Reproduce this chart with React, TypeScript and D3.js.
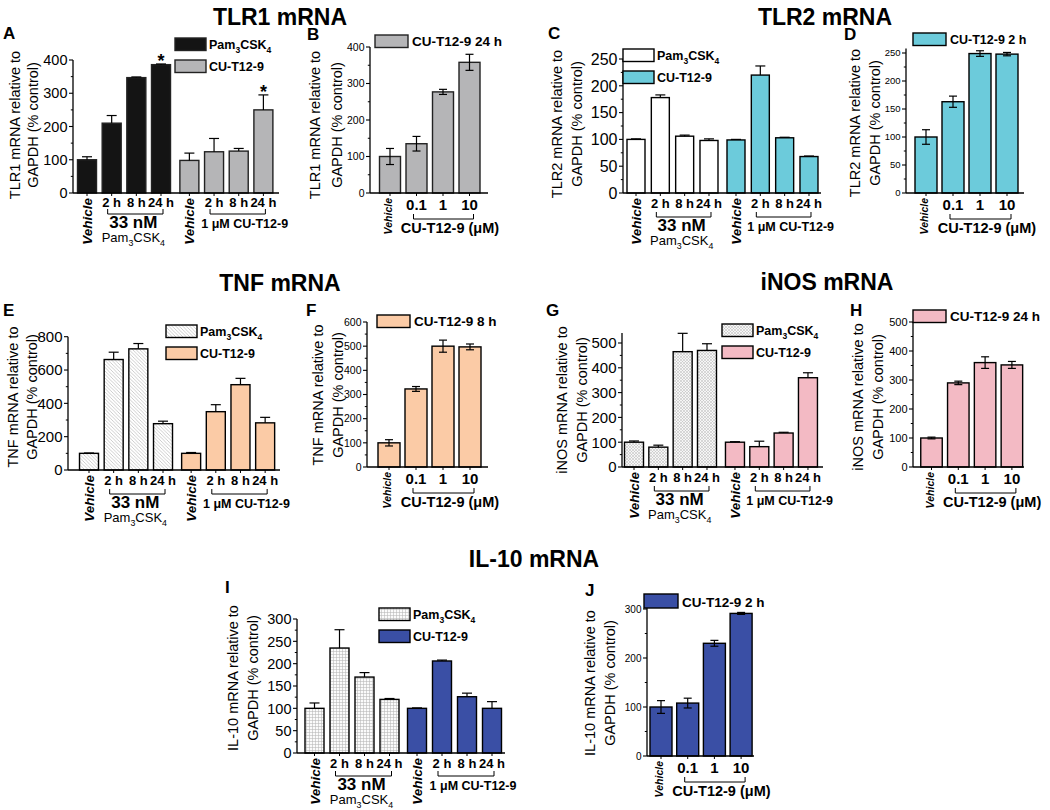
import React from "react";
import * as d3 from "d3";

const FONT = '"Liberation Sans", Arial, Helvetica, sans-serif';

// ---------- categories ----------
const timeCategories = ["Vehicle", "2 h", "8 h", "24 h", "Vehicle", "2 h", "8 h", "24 h"];
const doseCategories = ["Vehicle", "0.1", "1", "10"];
const timeLegend = ["Pam3CSK4", "CU-T12-9"];
const pamGroupLabel = "33 nM";
const cuGroupLabel = "1 \u03bcM CU-T12-9";
const doseAxisLabel = "CU-T12-9 (\u03bcM)";

// ---------- TLR1 ----------
const tlr1TimeValues = [100, 210, 347, 386, 98, 124, 126, 250];
const tlr1TimeErrors = [9, 23, 2, 2, 22, 40, 8, 45];
const tlr1TimeStars = [3, 7];
const tlr1DoseValues = [100, 135, 277, 358];
const tlr1DoseErrors = [22, 20, 7, 22];
const tlr1DoseLegend = "CU-T12-9 24 h";

// ---------- TLR2 ----------
const tlr2TimeValues = [100, 178, 106, 98, 99, 220, 103, 68];
const tlr2TimeErrors = [1, 5, 2, 3, 1, 17, 1, 1];
const tlr2DoseValues = [100, 163, 249, 248];
const tlr2DoseErrors = [13, 10, 5, 3];
const tlr2DoseLegend = "CU-T12-9 2 h";

// ---------- TNF ----------
const tnfTimeValues = [100, 663, 727, 278, 100, 350, 512, 283];
const tnfTimeErrors = [2, 44, 32, 15, 5, 42, 38, 33];
const tnfDoseValues = [100, 323, 500, 497];
const tnfDoseErrors = [13, 10, 25, 12];
const tnfDoseLegend = "CU-T12-9 8 h";

// ---------- iNOS ----------
const inosTimeValues = [100, 80, 465, 470, 100, 82, 137, 360];
const inosTimeErrors = [5, 8, 74, 27, 2, 22, 3, 20];
const inosDoseValues = [100, 290, 360, 352];
const inosDoseErrors = [3, 6, 20, 12];
const inosDoseLegend = "CU-T12-9 24 h";

// ---------- IL-10 ----------
const il10TimeValues = [100, 235, 170, 120, 100, 206, 126, 100];
const il10TimeErrors = [12, 41, 10, 2, 1, 2, 8, 15];
const il10DoseValues = [100, 108, 230, 291];
const il10DoseErrors = [13, 10, 6, 2];
const il10DoseLegend = "CU-T12-9 2 h";

function Pam({ size }: { size: number }) {
  const s = size * 0.68;
  const d = size * 0.28;
  return (
    <>
      <tspan>Pam</tspan>
      <tspan fontSize={s} dy={d}>3</tspan>
      <tspan dy={-d}>CSK</tspan>
      <tspan fontSize={s} dy={d}>4</tspan>
    </>
  );
}

function Label({ text, size }: { text: string; size: number }) {
  if (text === "Pam3CSK4") return <Pam size={size} />;
  return <>{text}</>;
}

function YAxis({ y, axisX, yMax, tickMax, tickStep, tickFont }: any) {
  const ticks = d3.range(0, tickMax + tickStep / 2, tickStep);
  const minors = d3.range(tickStep / 2, yMax + 1e-6, tickStep);
  return (
    <g>
      <line x1={axisX} x2={axisX} y1={y(0)} y2={y(yMax)} stroke="#000" strokeWidth={1.3} />
      {ticks.map((t: number) => (
        <g key={"t" + t}>
          <line x1={axisX - 4} x2={axisX} y1={y(t)} y2={y(t)} stroke="#000" strokeWidth={1.1} />
          <text x={axisX - 5.5} y={y(t)} dy="0.36em" textAnchor="end" fontSize={tickFont}>
            {t}
          </text>
        </g>
      ))}
      {minors.map((t: number) => (
        <line key={"m" + t} x1={axisX - 2.2} x2={axisX} y1={y(t)} y2={y(t)} stroke="#000" strokeWidth={1} />
      ))}
    </g>
  );
}

function YTitle({ line1, x1, x2, cy }: any) {
  return (
    <g fontSize={14.5}>
      <text transform={`translate(${x1},${cy}) rotate(-90)`} textAnchor="middle">
        {line1}
      </text>
      <text transform={`translate(${x2},${cy}) rotate(-90)`} textAnchor="middle">
        GAPDH (% control)
      </text>
    </g>
  );
}

function bracket(x1: number, x2: number, yb: number) {
  return `M${x1},${yb - 5}V${yb}H${x2}V${yb - 5}`;
}

function TimePanel(p: any) {
  const xs = d3.scaleLinear().domain([0, 1]).range([p.firstCenter, p.firstCenter + p.step]);
  const c = (i: number) => xs(i + (i >= 4 ? p.gapFrac : 0));
  const y = d3.scaleLinear().domain([0, p.yRefVal]).range([p.y0, p.yRefPx]);
  const y0 = p.y0;
  const ls = p.labelShift || 0;
  const bw = p.barWidth;
  return (
    <g>
      {p.values.map((v: number, i: number) => (
        <rect
          key={"b" + i}
          x={c(i) - bw / 2}
          y={y(v)}
          width={bw}
          height={y(0) - y(v)}
          fill={i < 4 ? p.pamFill : p.cuFill}
          stroke={p.barStroke || "#000"}
          strokeWidth={1.4}
        />
      ))}
      {p.values.map((v: number, i: number) => {
        const top = y(v + p.errors[i]);
        return (
          <g key={"e" + i} stroke="#000" strokeWidth={1.2}>
            <line x1={c(i)} x2={c(i)} y1={y(v)} y2={top} />
            <line x1={c(i) - 5} x2={c(i) + 5} y1={top} y2={top} />
          </g>
        );
      })}
      {(p.stars || []).map((i: number) => (
        <text key={"s" + i} x={c(i)} y={y(p.values[i] + p.errors[i]) + 3} textAnchor="middle" fontSize={18} fontWeight="bold">
          *
        </text>
      ))}
      <YAxis y={y} axisX={p.axisX} yMax={p.yMax} tickMax={p.tickMax} tickStep={p.tickStep} tickFont={p.tickFont} />
      <line x1={p.axisX} x2={p.rightX} y1={y0} y2={y0} stroke="#000" strokeWidth={1.3} />
      {timeCategories.map((_, i) => (
        <line key={"xt" + i} x1={c(i)} x2={c(i)} y1={y0} y2={y0 + 3} stroke="#000" strokeWidth={1} />
      ))}
      {timeCategories.map((cat, i) =>
        cat === "Vehicle" ? (
          <text
            key={"xl" + i}
            transform={`translate(${c(i) + 5},${y0 + 5}) rotate(-90)`}
            textAnchor="end"
            fontSize={13.5}
            fontWeight="bold"
            fontStyle="italic"
          >
            {cat}
          </text>
        ) : (
          <text key={"xl" + i} x={c(i)} y={y0 + 15 + ls / 2} textAnchor="middle" fontSize={13} fontWeight="bold">
            {cat}
          </text>
        )
      )}
      <path d={bracket(c(1) - 4, c(3) + 2, y0 + 24 + ls)} fill="none" stroke="#000" strokeWidth={1} />
      <path d={bracket(c(5) - 4, c(7) + 2, y0 + 24 + ls)} fill="none" stroke="#000" strokeWidth={1} />
      <text x={(c(1) + c(3)) / 2 - 3} y={y0 + 38 + ls} textAnchor="middle" fontSize={17} fontWeight="bold">
        {pamGroupLabel}
      </text>
      <text x={(c(1) + c(3)) / 2 - 3} y={y0 + 52 + ls} textAnchor="middle" fontSize={13}>
        <Pam size={13} />
      </text>
      <text x={(c(5) + c(7)) / 2 + 6} y={y0 + 38 + ls} textAnchor="middle" fontSize={12.5} fontWeight="bold">
        {cuGroupLabel}
      </text>
      {timeLegend.map((name, k) => (
        <g key={"lg" + k}>
          <rect
            x={p.legendX}
            y={p.legendY + k * 22}
            width={31}
            height={12.5}
            fill={k === 0 ? p.pamFill : p.cuFill}
            stroke={p.barStroke || "#000"}
            strokeWidth={1.4}
          />
          <text x={p.legendX + 34} y={p.legendY + k * 22 + 11} fontSize={12.5} fontWeight="bold">
            <Label text={name} size={12.5} />
          </text>
        </g>
      ))}
      <YTitle line1={p.yTitle} x1={p.yLabX1} x2={p.yLabX2} cy={p.yLabCy} />
    </g>
  );
}

function DosePanel(p: any) {
  const xs = d3.scaleLinear().domain([0, 1]).range([p.firstCenter, p.firstCenter + p.step]);
  const c = (i: number) => xs(i);
  const y = d3.scaleLinear().domain([0, p.yRefVal]).range([p.y0, p.yRefPx]);
  const y0 = p.y0;
  const bw = p.barWidth;
  const lh = p.legendH || 12.5;
  const lw = p.legendW || 33;
  return (
    <g>
      {p.values.map((v: number, i: number) => (
        <rect
          key={"b" + i}
          x={c(i) - bw / 2}
          y={y(v)}
          width={bw}
          height={y(0) - y(v)}
          fill={p.fill}
          stroke={p.barStroke || "#000"}
          strokeWidth={1.4}
        />
      ))}
      {p.values.map((v: number, i: number) => {
        const top = y(v + p.errors[i]);
        const bot = y(v - p.errors[i]);
        return (
          <g key={"e" + i} stroke="#000" strokeWidth={1.2}>
            <line x1={c(i)} x2={c(i)} y1={bot} y2={top} />
            <line x1={c(i) - 4} x2={c(i) + 4} y1={top} y2={top} />
            <line x1={c(i) - 4} x2={c(i) + 4} y1={bot} y2={bot} />
          </g>
        );
      })}
      <YAxis y={y} axisX={p.axisX} yMax={p.yMax} tickMax={p.tickMax} tickStep={p.tickStep} tickFont={p.tickFont} />
      <line x1={p.axisX} x2={p.rightX} y1={y0} y2={y0} stroke="#000" strokeWidth={1.3} />
      {doseCategories.map((_, i) => (
        <line key={"xt" + i} x1={c(i)} x2={c(i)} y1={y0} y2={y0 + 3} stroke="#000" strokeWidth={1} />
      ))}
      {doseCategories.map((cat, i) =>
        cat === "Vehicle" ? (
          <text
            key={"xl" + i}
            transform={`translate(${c(i) + 2},${y0 + 5}) rotate(-90)`}
            textAnchor="end"
            fontSize={10.5}
            fontWeight="bold"
            fontStyle="italic"
          >
            {cat}
          </text>
        ) : (
          <text key={"xl" + i} x={c(i)} y={y0 + 17} textAnchor="middle" fontSize={15} fontWeight="bold">
            {cat}
          </text>
        )
      )}
      <path d={bracket(c(1) - 3, c(3) + 4, y0 + 26)} fill="none" stroke="#000" strokeWidth={1} />
      <text x={(c(1) + c(3)) / 2 + 7} y={y0 + 40} textAnchor="middle" fontSize={14.5} fontWeight="bold">
        {doseAxisLabel}
      </text>
      <rect x={p.legendX} y={p.legendY} width={lw} height={lh} fill={p.fill} stroke={p.barStroke || "#000"} strokeWidth={1.4} />
      <text x={p.legendX + lw + 4} y={p.legendY + lh - 1.5} fontSize={p.legendFont || 13.5} fontWeight="bold">
        {p.legendText}
      </text>
      <YTitle line1={p.yTitle} x1={p.yLabX1} x2={p.yLabX2} cy={p.yLabCy} />
    </g>
  );
}

function PanelLetter({ x, y, t }: any) {
  return (
    <text x={x} y={y} fontSize={17} fontWeight="bold">
      {t}
    </text>
  );
}

function Title({ x, y, t }: any) {
  return (
    <text x={x} y={y} textAnchor="middle" fontSize={23} fontWeight="bold">
      {t}
    </text>
  );
}

export default function App() {
  const tlr1Gray = "#b5b5b7";
  const tlr2Cyan = "#6ccbdb";
  const tnfPeach = "#fbcba6";
  const inosPink = "#f3bac4";
  const il10Blue = "#3a4fa5";
  return (
    <svg
      width={1050}
      height={810}
      style={{ position: "absolute", left: 0, top: 0, background: "#fff" }}
      fontFamily={FONT}
    >
      <defs>
        <pattern id="hatch" width={3.5} height={3.5} patternUnits="userSpaceOnUse">
          <rect width={3.5} height={3.5} fill="#fff" />
          <path d="M0,0L3.5,3.5M-1,2.5L1,4.5M2.5,-1L4.5,1" stroke="#b8b8b8" strokeWidth={0.7} />
        </pattern>
        <pattern id="cross" width={3} height={3} patternUnits="userSpaceOnUse">
          <rect width={3} height={3} fill="#f6f6f6" />
          <path d="M0,0L3,3M3,0L0,3" stroke="#bdbdbd" strokeWidth={0.55} />
        </pattern>
        <pattern id="grid" width={3} height={3} patternUnits="userSpaceOnUse">
          <rect width={3} height={3} fill="#fbfbfb" />
          <path d="M0,0.5H3M0.5,0V3" stroke="#b5b5b5" strokeWidth={0.55} />
        </pattern>
      </defs>

      <Title x={280} y={25} t="TLR1 mRNA" />
      <Title x={825} y={25} t="TLR2 mRNA" />
      <Title x={280} y={291} t="TNF mRNA" />
      <Title x={827} y={290} t="iNOS mRNA" />
      <Title x={534} y={567} t="IL-10 mRNA" />

      <PanelLetter x={3} y={39} t="A" />
      <PanelLetter x={307} y={40} t="B" />
      <PanelLetter x={548} y={39} t="C" />
      <PanelLetter x={844} y={40} t="D" />
      <PanelLetter x={3} y={316} t="E" />
      <PanelLetter x={306} y={316} t="F" />
      <PanelLetter x={546} y={316} t="G" />
      <PanelLetter x={850} y={316} t="H" />
      <PanelLetter x={225} y={593} t="I" />
      <PanelLetter x={585} y={596} t="J" />

      {/* A */}
      <TimePanel
        values={tlr1TimeValues}
        errors={tlr1TimeErrors}
        stars={tlr1TimeStars}
        pamFill="#141414"
        cuFill={tlr1Gray}
        barStroke="#222"
        axisX={73}
        firstCenter={87}
        step={24.67}
        gapFrac={0.15}
        barWidth={19}
        rightX={279}
        y0={193}
        yRefVal={400}
        yRefPx={60}
        yMax={400}
        tickMax={400}
        tickStep={100}
        tickFont={14.5}
        legendX={175}
        legendY={38}
        yTitle="TLR1 mRNA relative to"
        yLabX1={20}
        yLabX2={38}
        yLabCy={125}
        labelShift={-3}
      />
      {/* B */}
      <DosePanel
        values={tlr1DoseValues}
        errors={tlr1DoseErrors}
        fill={tlr1Gray}
        barStroke="#222"
        axisX={370}
        firstCenter={390}
        step={26.5}
        barWidth={21}
        rightX={488}
        y0={193}
        yRefVal={400}
        yRefPx={47}
        yMax={400}
        tickMax={400}
        tickStep={100}
        tickFont={10.5}
        legendX={375}
        legendY={35}
        legendText={tlr1DoseLegend}
        yTitle="TLR1 mRNA relative to"
        yLabX1={320}
        yLabX2={342}
        yLabCy={125}
      />
      {/* C */}
      <TimePanel
        values={tlr2TimeValues}
        errors={tlr2TimeErrors}
        pamFill="#fff"
        cuFill={tlr2Cyan}
        axisX={623}
        firstCenter={636}
        step={24.33}
        gapFrac={0.11}
        barWidth={18}
        rightX={821}
        y0={193}
        yRefVal={250}
        yRefPx={59}
        yMax={250}
        tickMax={250}
        tickStep={50}
        tickFont={16}
        legendX={623}
        legendY={49}
        yTitle="TLR2 mRNA relative to"
        yLabX1={562}
        yLabX2={582}
        yLabCy={124}
      />
      {/* D */}
      <DosePanel
        values={tlr2DoseValues}
        errors={tlr2DoseErrors}
        fill={tlr2Cyan}
        axisX={906}
        firstCenter={926}
        step={27}
        barWidth={22}
        rightX={1024}
        y0={193}
        yRefVal={250}
        yRefPx={53}
        yMax={258}
        tickMax={250}
        tickStep={50}
        tickFont={9.5}
        legendX={913}
        legendY={33}
        legendFont={12.5}
        legendText={tlr2DoseLegend}
        yTitle="TLR2 mRNA relative to"
        yLabX1={860}
        yLabX2={880}
        yLabCy={123}
      />
      {/* E */}
      <TimePanel
        values={tnfTimeValues}
        errors={tnfTimeErrors}
        pamFill="url(#hatch)"
        cuFill={tnfPeach}
        axisX={68}
        firstCenter={89}
        step={24.67}
        gapFrac={0.14}
        barWidth={19}
        rightX={280}
        y0={470}
        yRefVal={800}
        yRefPx={336.7}
        yMax={800}
        tickMax={800}
        tickStep={200}
        tickFont={15}
        legendX={166}
        legendY={325}
        yTitle="TNF mRNA relative to"
        yLabX1={18}
        yLabX2={37}
        yLabCy={397}
      />
      {/* F */}
      <DosePanel
        values={tnfDoseValues}
        errors={tnfDoseErrors}
        fill={tnfPeach}
        axisX={367}
        firstCenter={389}
        step={27}
        barWidth={22}
        rightX={488}
        y0={467}
        yRefVal={600}
        yRefPx={322}
        yMax={600}
        tickMax={600}
        tickStep={100}
        tickFont={10.5}
        legendX={377}
        legendY={315}
        legendText={tnfDoseLegend}
        yTitle="TNF mRNA relative to"
        yLabX1={323}
        yLabX2={343}
        yLabCy={395}
      />
      {/* G */}
      <TimePanel
        values={inosTimeValues}
        errors={inosTimeErrors}
        pamFill="url(#cross)"
        cuFill={inosPink}
        axisX={622}
        firstCenter={634}
        step={24.33}
        gapFrac={0.15}
        barWidth={19}
        rightX={823}
        y0={467}
        yRefVal={500}
        yRefPx={343}
        yMax={540}
        tickMax={500}
        tickStep={100}
        tickFont={15}
        legendX={722}
        legendY={324}
        yTitle="iNOS mRNA relative to"
        yLabX1={567}
        yLabX2={587}
        yLabCy={400}
      />
      {/* H */}
      <DosePanel
        values={inosDoseValues}
        errors={inosDoseErrors}
        fill={inosPink}
        axisX={913}
        firstCenter={931.5}
        step={26.8}
        barWidth={21.5}
        rightX={1024}
        y0={467}
        yRefVal={500}
        yRefPx={322}
        yMax={500}
        tickMax={500}
        tickStep={100}
        tickFont={11}
        legendX={913}
        legendY={310}
        legendText={inosDoseLegend}
        yTitle="iNOS mRNA relative to"
        yLabX1={863}
        yLabX2={883}
        yLabCy={397}
      />
      {/* I */}
      <TimePanel
        values={il10TimeValues}
        errors={il10TimeErrors}
        pamFill="url(#grid)"
        cuFill={il10Blue}
        axisX={297}
        firstCenter={314.5}
        step={25}
        gapFrac={0.1}
        barWidth={19}
        rightX={505}
        y0={753}
        yRefVal={300}
        yRefPx={619}
        yMax={300}
        tickMax={300}
        tickStep={50}
        tickFont={14.5}
        legendX={379}
        legendY={608}
        yTitle="IL-10 mRNA relative to"
        yLabX1={238}
        yLabX2={258}
        yLabCy={678}
        labelShift={-1}
      />
      {/* J */}
      <DosePanel
        values={il10DoseValues}
        errors={il10DoseErrors}
        fill={il10Blue}
        axisX={647}
        firstCenter={661}
        step={26.7}
        barWidth={22}
        rightX={754}
        y0={756}
        yRefVal={300}
        yRefPx={609}
        yMax={325}
        tickMax={300}
        tickStep={100}
        tickFont={10}
        legendX={644}
        legendY={594}
        legendW={34}
        legendH={14}
        legendText={il10DoseLegend}
        yTitle="IL-10 mRNA relative to"
        yLabX1={595}
        yLabX2={615}
        yLabCy={683}
      />
    </svg>
  );
}
